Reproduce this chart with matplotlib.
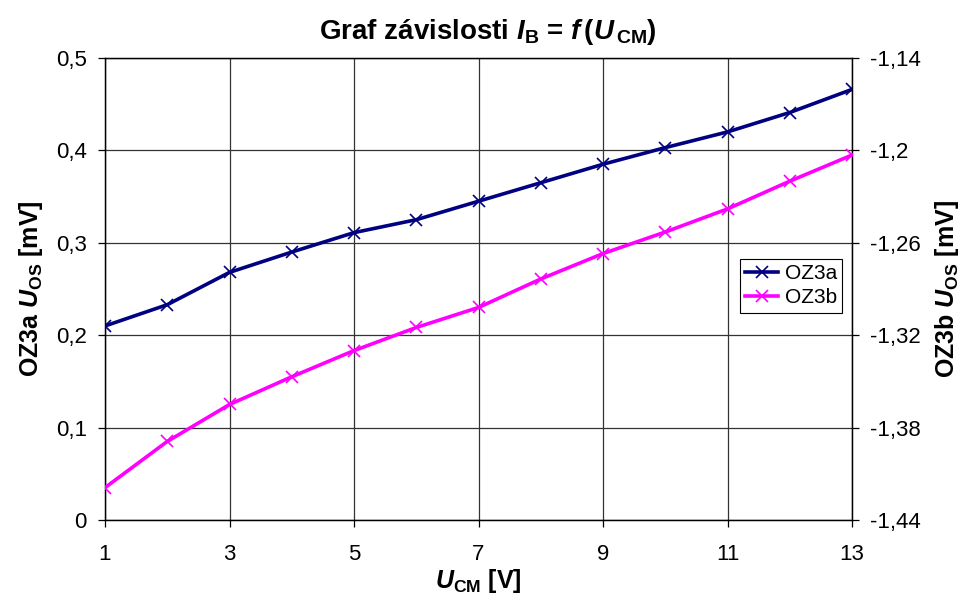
import matplotlib
matplotlib.use("Agg")
import matplotlib.pyplot as plt
from matplotlib.ticker import FuncFormatter

# ── data ────────────────────────────────────────────────────────
U_CM = [1, 2, 3, 4, 5, 6, 7, 8, 9, 10, 11, 12, 13]
OZ3A = [0.210, 0.233, 0.268, 0.290, 0.311, 0.325, 0.345, 0.365, 0.385,
        0.403, 0.420, 0.441, 0.466]
OZ3B = [-1.419, -1.389, -1.365, -1.347, -1.330, -1.315, -1.302, -1.2835,
        -1.267, -1.253, -1.238, -1.220, -1.203]

X_TICKS = [1, 3, 5, 7, 9, 11, 13]
LEFT_TICKS = [0, 0.1, 0.2, 0.3, 0.4, 0.5]
RIGHT_TICKS = [-1.44, -1.38, -1.32, -1.26, -1.2, -1.14]

CLR_A = "#000080"
CLR_B = "#ff00ff"

plt.rcParams["font.family"] = ["Liberation Sans", "DejaVu Sans"]
plt.rcParams["mathtext.fontset"] = "custom"
plt.rcParams["mathtext.rm"] = "Liberation Sans:bold"
plt.rcParams["mathtext.it"] = "Liberation Sans:italic:bold"
plt.rcParams["mathtext.bf"] = "Liberation Sans:bold"


def comma(v, _pos):
    s = f"{v:.2f}".rstrip("0").rstrip(".")
    return s.replace(".", ",")


fig = plt.figure(figsize=(9.64, 5.99), dpi=100)
ax = fig.add_axes([105 / 964, 1 - 520 / 599, 747 / 964, 462 / 599])
ax2 = ax.twinx()

la, = ax.plot(U_CM, OZ3A, color=CLR_A, lw=2.6, marker="x", ms=9, mew=1.2,
              label="OZ3a", zorder=3)
lb, = ax2.plot(U_CM, OZ3B, color=CLR_B, lw=2.6, marker="x", ms=9, mew=1.2,
               label="OZ3b", zorder=3)

ax.set_xlim(1, 13)
ax.set_ylim(0, 0.5)
ax2.set_ylim(-1.44, -1.14)
ax.set_xticks(X_TICKS)
ax.set_yticks(LEFT_TICKS)
ax2.set_yticks(RIGHT_TICKS)
ax.yaxis.set_major_formatter(FuncFormatter(comma))
ax2.yaxis.set_major_formatter(FuncFormatter(comma))

ax.grid(True, color="#333333", lw=0.9)
for a in (ax, ax2):
    a.tick_params(labelsize=16, length=5, width=0.9, direction="out", pad=8)
    for sp in a.spines.values():
        sp.set_linewidth(0.9)
ax.tick_params(axis="x", pad=12)

ax.set_xlabel(r"$U_{\rm CM}$ [V]", fontsize=18, fontweight="bold", labelpad=2)
ax.set_ylabel(r"OZ3a $U_{\rm OS}$ [mV]", fontsize=18, fontweight="bold",
              labelpad=8)
ax2.set_ylabel(r"OZ3b $U_{\rm OS}$ [mV]", fontsize=18, fontweight="bold",
               labelpad=9)
ttl = ax.set_title(r"Graf závislosti $I_{\rm B}$ = $f\,$($U_{\,\rm CM}$)",
                   fontsize=20, fontweight="bold", pad=14)
ttl.set_x(0.513)

leg = ax2.legend(handles=[la, lb], loc="upper left",
                 bbox_to_anchor=(0.85, 0.565), fontsize=15, frameon=True,
                 fancybox=False, framealpha=1, edgecolor="black",
                 handlelength=1.6, borderpad=0.25, labelspacing=0.25,
                 handletextpad=0.3, borderaxespad=0)
leg.get_frame().set_linewidth(0.8)

fig.savefig("out.png", dpi=100)
